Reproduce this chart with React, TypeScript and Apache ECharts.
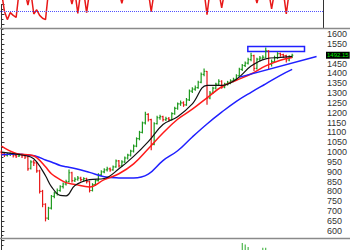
import React, { useEffect, useRef } from "react";
import * as echarts from "echarts";

// [open, close, low, high]
const ohlc: number[][] = [
  [1000, 995, 984, 1010], [995, 985, 975, 1000], [985, 988, 978, 996], [988, 990, 980, 998],
  [990, 982, 972, 995], [982, 980, 970, 990], [980, 985, 975, 994], [985, 982, 970, 992],
  [982, 975, 965, 990], [975, 915, 905, 980], [918, 950, 912, 958], [950, 945, 930, 960],
  [945, 905, 895, 950], [905, 800, 790, 910], [800, 735, 720, 808], [735, 665, 648, 740],
  [665, 715, 655, 722], [715, 775, 708, 782], [775, 790, 765, 798], [790, 805, 780, 815],
  [805, 825, 798, 832], [825, 838, 815, 845], [838, 850, 830, 860], [850, 895, 845, 912],
  [895, 855, 845, 900], [855, 862, 848, 872], [862, 868, 855, 878], [868, 860, 850, 875],
  [860, 865, 852, 872], [865, 850, 840, 870], [850, 805, 795, 855], [805, 835, 800, 842],
  [835, 855, 828, 862], [855, 885, 850, 892], [885, 900, 878, 908], [900, 910, 892, 918],
  [910, 915, 902, 925], [915, 910, 900, 922], [910, 925, 905, 932], [925, 955, 920, 962],
  [955, 930, 922, 960], [930, 950, 925, 958], [950, 970, 945, 978], [970, 985, 962, 992],
  [985, 1005, 978, 1012], [1005, 1030, 998, 1038], [1030, 1068, 1025, 1075], [1068, 1100, 1060, 1108],
  [1100, 1148, 1095, 1155], [1148, 1192, 1140, 1205], [1192, 1165, 1155, 1198], [1165, 1040, 1010, 1170],
  [1040, 1145, 1035, 1152], [1145, 1175, 1140, 1185], [1175, 1180, 1165, 1190], [1180, 1165, 1155, 1185],
  [1165, 1170, 1158, 1180], [1170, 1165, 1155, 1178], [1165, 1195, 1160, 1202], [1195, 1222, 1190, 1230],
  [1222, 1245, 1215, 1252], [1245, 1250, 1235, 1262], [1250, 1240, 1230, 1258], [1240, 1265, 1235, 1275],
  [1265, 1310, 1260, 1318], [1310, 1320, 1300, 1330], [1320, 1328, 1312, 1338], [1328, 1355, 1322, 1362],
  [1355, 1395, 1350, 1405], [1395, 1410, 1385, 1425], [1410, 1275, 1240, 1412], [1275, 1300, 1268, 1310],
  [1300, 1325, 1295, 1332], [1325, 1345, 1318, 1352], [1345, 1360, 1338, 1370], [1360, 1330, 1322, 1365],
  [1330, 1345, 1325, 1352], [1345, 1355, 1338, 1362], [1355, 1362, 1345, 1370], [1362, 1370, 1355, 1378],
  [1370, 1388, 1365, 1395], [1388, 1420, 1382, 1428], [1420, 1440, 1412, 1448], [1440, 1452, 1432, 1460],
  [1452, 1470, 1445, 1480], [1470, 1490, 1462, 1505], [1490, 1425, 1412, 1495], [1425, 1472, 1420, 1480],
  [1472, 1478, 1462, 1488], [1478, 1482, 1470, 1492], [1482, 1515, 1478, 1532], [1515, 1445, 1418, 1518],
  [1445, 1460, 1435, 1470], [1460, 1480, 1455, 1490], [1480, 1500, 1472, 1508], [1500, 1495, 1485, 1505],
  [1495, 1490, 1480, 1500], [1490, 1468, 1455, 1495], [1468, 1485, 1462, 1492], [1485, 1492.15, 1478, 1500],
];

const volume: number[] = [
  52, 48, 45, 50, 47, 44, 46, 49, 51, 66, 62, 55, 58, 64, 68, 66, 64, 60, 55, 52,
  50, 48, 47, 55, 58, 50, 46, 44, 45, 48, 60, 55, 50, 52, 49, 47, 45, 44, 46, 50,
  54, 48, 47, 49, 50, 52, 55, 57, 60, 62, 58, 66, 62, 55, 50, 48, 47, 46, 50, 52,
  54, 53, 50, 52, 56, 55, 53, 54, 58, 60, 68, 62, 56, 54, 52, 58, 54, 52, 51, 53,
  56, 60, 90, 86, 80, 64, 68, 66, 62, 78, 78, 66, 58, 56, 57, 55, 54, 60, 56, 58,
];

const oscillator: number[] = [
  130, 60, 30, 55, 45, 38, 130, 130, 130, 82, 130, 50, 65, 45, 35, 30, 130, 130, 130, 130,
  130, 130, 130, 130, 85, 130, 52, 130, 130, 55, 130, 130, 130, 130, 130, 130, 130, 130, 130, 130,
  130, 88, 130, 130, 130, 130, 130, 130, 130, 130, 130, 58, 130, 130, 130, 130, 130, 130, 130, 130,
  130, 130, 130, 130, 130, 130, 130, 130, 130, 130, 48, 130, 130, 130, 130, 72, 130, 130, 130, 130,
  130, 130, 130, 130, 130, 130, 130, 89, 130, 130, 130, 130, 68, 130, 130, 130, 130, 50, 130, 130,
];
const oscLevel = 60;

const maIdx: number[] = [0, 5, 10, 12, 15, 17, 20, 22, 25, 30, 35, 40, 45, 50, 55, 60, 65, 70, 75, 80, 85, 90, 95, 99];
const maShort: number[] = [1000, 990, 975, 950, 880, 825, 780, 778, 830, 860, 866, 915, 978, 1053, 1140, 1180, 1245, 1339, 1339, 1370, 1437, 1474, 1481, 1486];
const maMid: number[] = [1030, 993, 985, 972, 925, 890, 860, 845, 836, 823, 860, 890, 940, 1017, 1097, 1167, 1218, 1276, 1332, 1365, 1397, 1438, 1467, 1481];
const maLong: number[] = [986, 990, 983, 978, 960, 950, 932, 925, 917, 897, 875, 869, 868, 888, 957, 1007, 1077, 1143, 1203, 1258, 1304, 1347, 1390, 1420];

const trendLine: number[][] = [[81.1, 1381], [107.3, 1486]];
const boxX: number[] = [83.9, 103.2];
const boxY: number[] = [1511, 1536];
const lastPrice = 1492.15;
const slots = 110;

const GREEN = "#1f9a1f";
const RED = "#e81818";
const BLUE = "#2020ff";

export default function App() {
  const ref = useRef<HTMLDivElement>(null);
  useEffect(() => {
    if (!ref.current) return;
    const chart = echarts.init(ref.current, undefined, { renderer: "svg" });
    const cats = Array.from({ length: slots }, (_, i) => String(i));
    const font = "Liberation Sans";
    const option: any = {
      animation: false,
      backgroundColor: "#fff",
      grid: [
        { left: 0, right: 27, top: 0, height: 28, containLabel: false, outerBoundsMode: "none" },
        { left: 0, right: 27, top: 4.5, height: 246, containLabel: false, outerBoundsMode: "none" },
        { left: 0, right: 27, top: 239, height: 40, containLabel: false, outerBoundsMode: "none" },
      ],
      xAxis: [
        { gridIndex: 0, type: "category", data: cats, show: false },
        { gridIndex: 1, type: "value", min: -0.5, max: slots - 0.5, show: false },
        { gridIndex: 2, type: "category", data: cats, show: false },
      ],
      yAxis: [
        {
          gridIndex: 0, type: "value", min: 0, max: 100, position: "right",
          axisLine: { show: true, lineStyle: { color: "#333" } },
          axisTick: { show: false }, axisLabel: { show: false }, splitLine: { show: false },
        },
        {
          gridIndex: 1, type: "value", min: 500, max: 1750, interval: 50, position: "right",
          axisLine: { show: true, lineStyle: { color: "#333" } },
          axisTick: { show: true, length: 3, lineStyle: { color: "#333" } },
          minorTick: { show: true, splitNumber: 2, length: 2, lineStyle: { color: "#333" } },
          splitLine: { show: false }, minorSplitLine: { show: false },
          axisLabel: {
            margin: 4, fontSize: 9, color: "#333", fontFamily: font,
            formatter: (v: number) =>
              v < 600 || v > 1600 || Math.abs(v - lastPrice) < 25 ? "" : String(v),
          },
        },
        { gridIndex: 2, type: "value", min: 0, max: 100, show: false },
      ],
      series: [
        {
          type: "line", xAxisIndex: 0, yAxisIndex: 0, data: oscillator, symbol: "none",
          lineStyle: { color: RED, width: 1.5 }, clip: true,
          markLine: {
            silent: true, symbol: "none", label: { show: false },
            lineStyle: { color: "#5050ff", type: "dotted", width: 1 },
            data: [{ yAxis: oscLevel }],
          },
        },
        {
          type: "custom", xAxisIndex: 1, yAxisIndex: 1,
          data: ohlc.map((d, i) => [i, d[0], d[1], d[2], d[3]]),
          encode: { x: 0, y: [1, 2, 3, 4] },
          renderItem: (params: any, api: any) => {
            const i = api.value(0);
            const o = api.value(1), c = api.value(2), l = api.value(3), h = api.value(4);
            const p = api.coord([i, o]);
            const x = p[0], yo = p[1];
            const yc = api.coord([i, c])[1];
            const yl = api.coord([i, l])[1];
            const yh = api.coord([i, h])[1];
            const color = c >= o ? GREEN : RED;
            const w = 1.2;
            const st = { stroke: color, lineWidth: 1.2 };
            return {
              type: "group",
              children: [
                { type: "line", shape: { x1: x, y1: yh, x2: x, y2: yl }, style: st },
                { type: "line", shape: { x1: x - w, y1: yo, x2: x, y2: yo }, style: st },
                { type: "line", shape: { x1: x, y1: yc, x2: x + w, y2: yc }, style: st },
              ],
            };
          },
        },
        {
          type: "line", xAxisIndex: 1, yAxisIndex: 1, symbol: "none", smooth: 0.4,
          data: maIdx.map((x, k) => [x, maLong[k]]), lineStyle: { color: BLUE, width: 1.5 },
        },
        {
          type: "line", xAxisIndex: 1, yAxisIndex: 1, symbol: "none", smooth: 0.4,
          data: maIdx.map((x, k) => [x, maMid[k]]), lineStyle: { color: "#ff1a1a", width: 1.5 },
        },
        {
          type: "line", xAxisIndex: 1, yAxisIndex: 1, symbol: "none", smooth: 0.4,
          data: maIdx.map((x, k) => [x, maShort[k]]), lineStyle: { color: "#111", width: 1.2 },
        },
        {
          type: "line", xAxisIndex: 1, yAxisIndex: 1, symbol: "none",
          data: trendLine, lineStyle: { color: BLUE, width: 1.5 },
          markArea: {
            silent: true,
            itemStyle: { color: "rgba(0,0,0,0)", borderColor: BLUE, borderWidth: 1.5 },
            data: [[{ coord: [boxX[0], boxY[1]] }, { coord: [boxX[1], boxY[0]] }]],
          },
        },
        {
          type: "bar", xAxisIndex: 2, yAxisIndex: 2, barWidth: 1,
          data: volume.map((v, i) => ({
            value: v,
            itemStyle: { color: ohlc[i][1] >= ohlc[i][0] ? "#2aa82a" : RED },
          })),
        },
      ],
    };
    chart.setOption(option);
    const yLast = chart.convertToPixel({ yAxisIndex: 1 } as any, lastPrice) as any as number;
    chart.setOption({
      graphic: [
        { type: "line", z: 50, shape: { x1: 0, y1: 28.5, x2: 350, y2: 28.5 }, style: { stroke: "#8a8a8a", lineWidth: 1.5 } },
        { type: "line", z: 50, shape: { x1: 0, y1: 238.5, x2: 350, y2: 238.5 }, style: { stroke: "#8a8a8a", lineWidth: 1.5 } },
        {
          type: "text", z: 60, x: 326, y: yLast,
          style: {
            text: lastPrice.toFixed(2), fill: "#00ee00", backgroundColor: "#000",
            font: "6px Liberation Sans", padding: [1, 1, 0, 1], verticalAlign: "middle", align: "left",
          },
        },
      ],
    });
    return () => chart.dispose();
  }, []);
  return <div ref={ref} style={{ position: "fixed", left: 0, top: 0, width: 350, height: 250 }} />;
}
